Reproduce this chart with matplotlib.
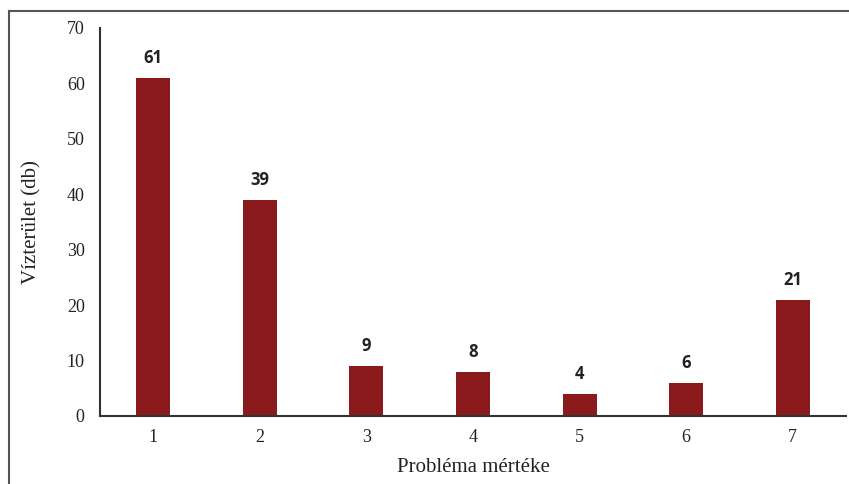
import matplotlib.pyplot as plt
from matplotlib.lines import Line2D

categories = [1, 2, 3, 4, 5, 6, 7]
values = [61, 39, 9, 8, 4, 6, 21]
y_ticks = [0, 10, 20, 30, 40, 50, 60, 70]

fig = plt.figure(figsize=(8.49, 4.84), dpi=100)
ax = fig.add_axes([100 / 849, 1 - 416 / 484, 746 / 849, 388 / 484])

ax.bar(categories, values, width=0.32, color='#8b1a1c')
for x, v in zip(categories, values):
    ax.text(x, v + 2, str(v), ha='center', va='bottom', fontsize=12,
            fontweight='bold', family='Open Sans', color='#222222')

ax.set_xlim(0.5, 7.5)
ax.set_ylim(0, 70)
ax.set_xticks(categories)
ax.set_yticks(y_ticks)
ax.tick_params(length=0, labelsize=13, colors='#222222')
ax.tick_params(axis='y', pad=11)
ax.tick_params(axis='x', pad=9)
for lab in ax.get_xticklabels() + ax.get_yticklabels():
    lab.set_family('Liberation Serif')

ax.spines['top'].set_visible(False)
ax.spines['right'].set_visible(False)
ax.spines['left'].set_color('#333333')
ax.spines['bottom'].set_color('#333333')
ax.spines['left'].set_linewidth(1.5)
ax.spines['bottom'].set_linewidth(1.5)

ax.set_xlabel('Probléma mértéke', family='Liberation Serif', fontsize=15,
              color='#222222', labelpad=9)
ax.set_ylabel('Vízterület (db)', family='Liberation Serif', fontsize=15,
              color='#222222', labelpad=18)

# outer frame (left and top edges only)
fig.add_artist(Line2D([9 / 849, 9 / 849], [0, 1 - 11 / 484], color='#555555', lw=1.5))
fig.add_artist(Line2D([9 / 849, 1], [1 - 11 / 484, 1 - 11 / 484], color='#555555', lw=1.5))

fig.savefig('out.png', dpi=100)
